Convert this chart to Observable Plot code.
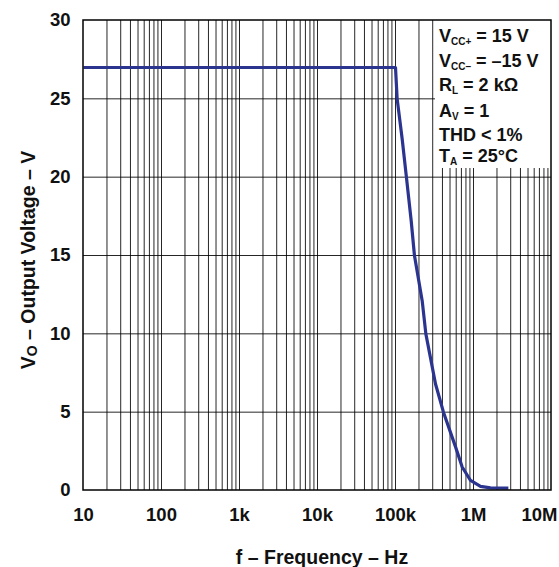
<!DOCTYPE html>
<html><head><meta charset="utf-8">
<script src="https://cdn.jsdelivr.net/npm/d3@7"></script>
<script src="https://cdn.jsdelivr.net/npm/@observablehq/plot@0.6"></script>
<style>
body{margin:0;background:#fff}
svg{font-family: Arial, "Liberation Sans", Helvetica, sans-serif}
</style>
</head><body><div id="chart"></div>
<script>
// Curve: output voltage vs frequency
const freqHz = [10, 1.0e5, 1.05e5, 1.22e5, 1.38e5, 1.59e5, 1.75e5, 2.2e5, 2.45e5, 3.26e5, 4.12e5, 5.87e5, 7.16e5, 9.16e5, 1.23e6, 1.65e6, 2.8e6];
const voutV  = [27, 27, 25, 22.4, 20, 17.2, 15, 12.1, 10, 6.8, 5, 2.8, 1.5, 0.64, 0.26, 0.17, 0.15];

const xTickValues = [10, 100, 1e3, 1e4, 1e5, 1e6, 1e7];
const xTickLabels = ["10", "100", "1k", "10k", "100k", "1M", "10M"];
const yTickValues = [0, 5, 10, 15, 20, 25, 30];
const yGridValues = [5, 10, 15, 20, 25];
const xGridValues = d3.range(1, 7).flatMap(e => d3.range(1, 10).map(k => k * 10 ** e)).filter(v => v > 10);

// Test conditions: [main, subscript, rest]
const condMain = ["V", "V", "R", "A", "THD < 1%", "T"];
const condSub  = ["CC+", "CC\u2013", "L", "V", "", "A"];
const condRest = [" = 15 V", " = \u201315 V", " = 2 k\u03A9", " = 1", "", " = 25\u00B0C"];

const xTitle = "f \u2013 Frequency \u2013 Hz";
const yTitleMain = "V", yTitleSub = "O", yTitleRest = " \u2013 Output Voltage \u2013 V";

const curve = freqHz.map((f, i) => ({f, v: voutV[i]}));
const fmtX = d => xTickLabels[xTickValues.indexOf(d)];

const chart = Plot.plot({
  width: 559, height: 567,
  marginTop: 20, marginRight: 8, marginBottom: 77, marginLeft: 83,
  style: {background: "#fff", fontFamily: "Arial, 'Liberation Sans', sans-serif"},
  x: {type: "log", domain: [10, 1e7]},
  y: {domain: [0, 30]},
  marks: [
    Plot.ruleX(xGridValues, {stroke: "#000", strokeWidth: 1, strokeOpacity: 0.85}),
    Plot.ruleY(yGridValues, {stroke: "#000", strokeWidth: 1, strokeOpacity: 0.85}),
    Plot.line(curve, {x: "f", y: "v", stroke: "#2b3590", strokeWidth: 3.2, strokeLinejoin: "round", strokeLinecap: "butt"}),
    Plot.axisX(xTickValues.slice(0, -1), {tickSize: 0, tickPadding: 17, tickFormat: fmtX, fontSize: 18.5, fontWeight: "bold", fill: "#111", label: null}),
    Plot.axisX(xTickValues.slice(-1), {tickSize: 0, tickPadding: 17, tickFormat: fmtX, fontSize: 18.5, fontWeight: "bold", fill: "#111", label: null, textAnchor: "end", dx: 6}),
    Plot.axisY(yTickValues, {tickSize: 0, tickPadding: 13, fontSize: 18.5, fontWeight: "bold", fill: "#111", label: null})
  ]
});

document.getElementById("chart").appendChild(chart);

const svg = d3.select(chart);
const g = svg.append("g").attr("text-anchor", "start");
g.append("rect").attr("x", 435).attr("y", 20).attr("width", 116).attr("height", 148).attr("fill", "#fff");
const baselines = [41.5, 66.5, 91, 116.5, 141, 162];
condMain.forEach((m, i) => {
  const t = g.append("text").attr("x", 439).attr("y", baselines[i])
    .attr("font-size", 18).attr("font-weight", "bold").attr("fill", "#111");
  t.append("tspan").text(m);
  if (condSub[i]) t.append("tspan").attr("font-size", 10).attr("dy", 3).text(condSub[i]);
  if (condRest[i]) t.append("tspan").attr("dy", condSub[i] ? -3 : 0).text(condRest[i]);
});
// plot frame drawn on top of the legend box
svg.append("rect").attr("x", 83).attr("y", 20).attr("width", 468).attr("height", 470)
  .attr("fill", "none").attr("stroke", "#000").attr("stroke-width", 1.5);

// Axis titles
svg.append("text").attr("x", 322).attr("y", 564).attr("text-anchor", "middle")
  .attr("font-size", 19.5).attr("font-weight", "bold").attr("fill", "#111").text(xTitle);
const yt = svg.append("text").attr("transform", "translate(35,260) rotate(-90)").attr("text-anchor", "middle")
  .attr("font-size", 19.5).attr("font-weight", "bold").attr("fill", "#111");
yt.append("tspan").text(yTitleMain);
yt.append("tspan").attr("font-size", 14).attr("dy", 2).text(yTitleSub);
yt.append("tspan").attr("dy", -2).text(yTitleRest);
</script>
</body></html>
